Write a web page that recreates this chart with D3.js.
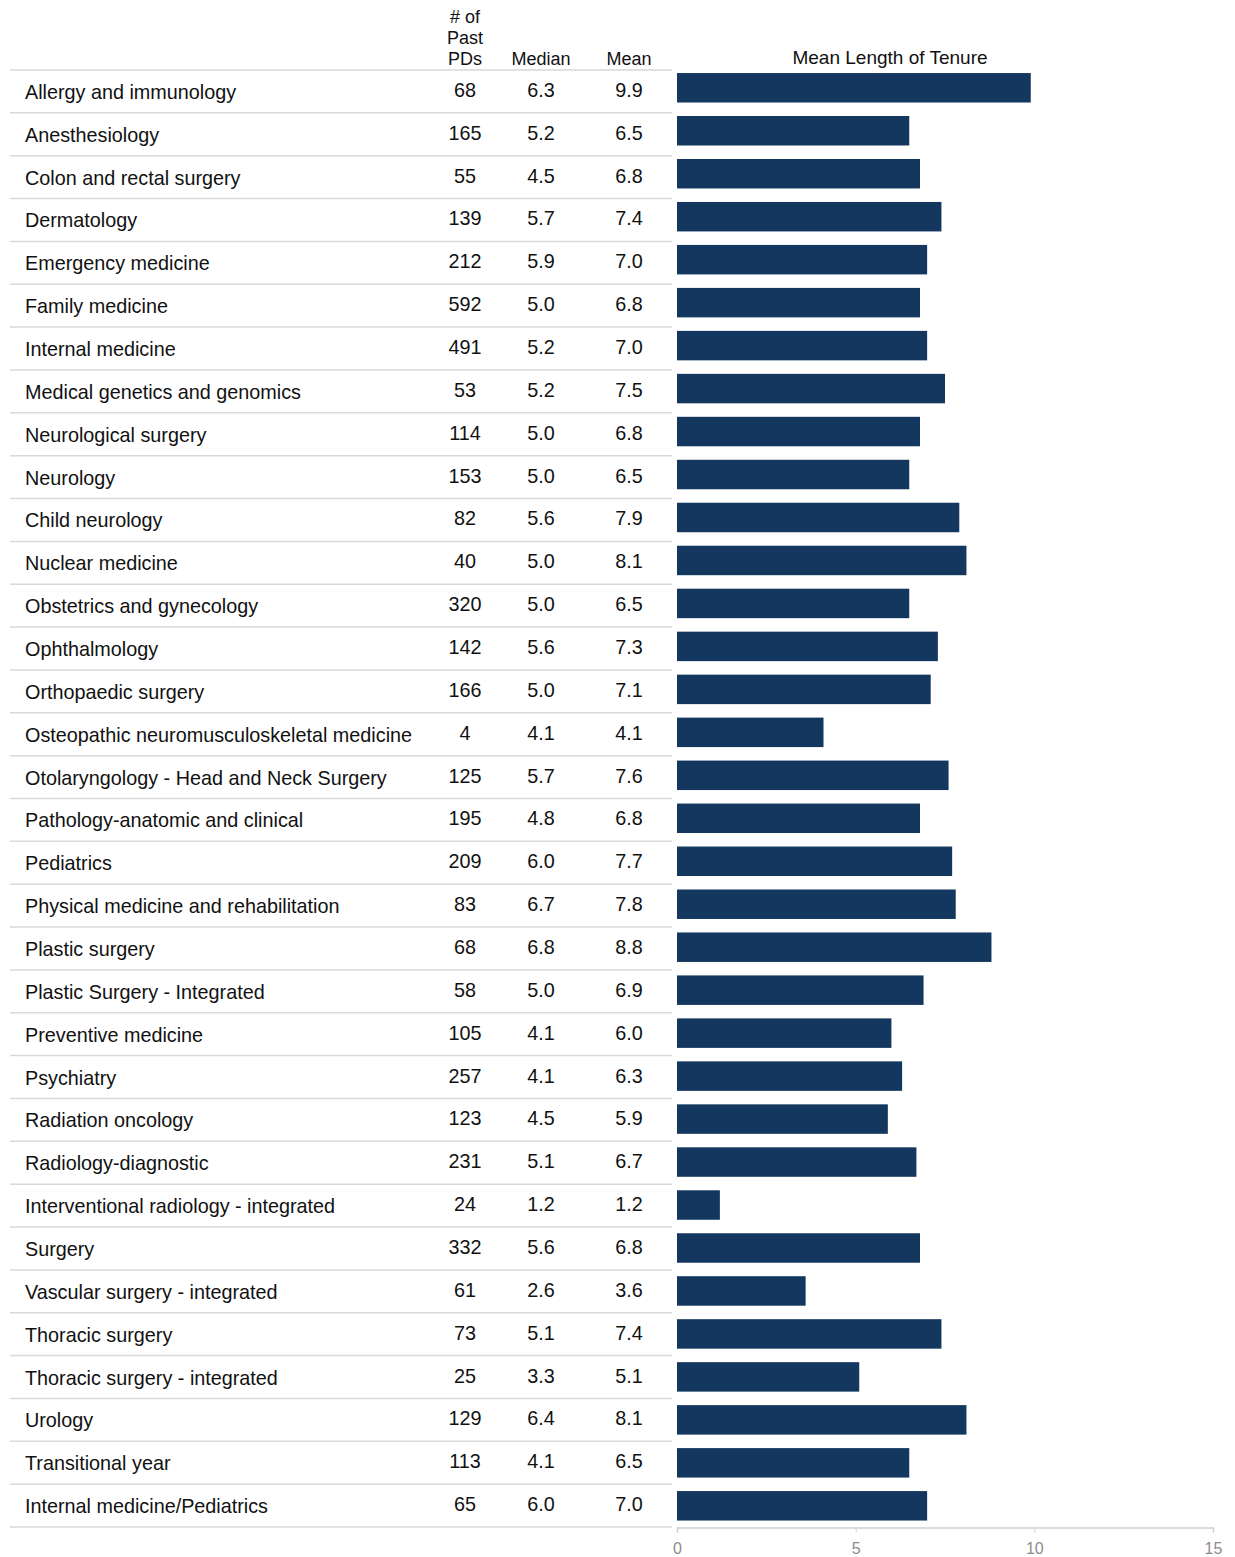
<!DOCTYPE html>
<html><head><meta charset="utf-8">
<script src="https://cdn.jsdelivr.net/npm/d3@7"></script>
<style>body{margin:0;background:#fff;}svg{display:block;font-family:"Liberation Sans",Arial,sans-serif;}</style>
</head><body><svg id="c" width="1235" height="1557"></svg>
<script>
const specialties = ["Allergy and immunology","Anesthesiology","Colon and rectal surgery","Dermatology","Emergency medicine","Family medicine","Internal medicine","Medical genetics and genomics","Neurological surgery","Neurology","Child neurology","Nuclear medicine","Obstetrics and gynecology","Ophthalmology","Orthopaedic surgery","Osteopathic neuromusculoskeletal medicine","Otolaryngology - Head and Neck Surgery","Pathology-anatomic and clinical","Pediatrics","Physical medicine and rehabilitation","Plastic surgery","Plastic Surgery - Integrated","Preventive medicine","Psychiatry","Radiation oncology","Radiology-diagnostic","Interventional radiology - integrated","Surgery","Vascular surgery - integrated","Thoracic surgery","Thoracic surgery - integrated","Urology","Transitional year","Internal medicine/Pediatrics"];
const pastPDs = [68,165,55,139,212,592,491,53,114,153,82,40,320,142,166,4,125,195,209,83,68,58,105,257,123,231,24,332,61,73,25,129,113,65];
const medians = [6.3,5.2,4.5,5.7,5.9,5.0,5.2,5.2,5.0,5.0,5.6,5.0,5.0,5.6,5.0,4.1,5.7,4.8,6.0,6.7,6.8,5.0,4.1,4.1,4.5,5.1,1.2,5.6,2.6,5.1,3.3,6.4,4.1,6.0];
const means = [9.9,6.5,6.8,7.4,7.0,6.8,7.0,7.5,6.8,6.5,7.9,8.1,6.5,7.3,7.1,4.1,7.6,6.8,7.7,7.8,8.8,6.9,6.0,6.3,5.9,6.7,1.2,6.8,3.6,7.4,5.1,8.1,6.5,7.0];
const xTicks = [0,5,10,15];

const svg = d3.select("#c");
const idx = d3.range(specialties.length);
const yRow = d3.scaleBand().domain(idx).range([70,1527]);
const yBar = d3.scaleBand().domain(idx).range([66.3,1527.3]).paddingInner(0.314).paddingOuter(0.157);
const x = d3.scaleLinear().domain([0,15]).range([677,1213]);

// headers
const hdr = svg.append("g").attr("font-size",18).attr("fill","#111").attr("text-anchor","middle");
hdr.append("text").attr("x",465).attr("y",23).text("# of");
hdr.append("text").attr("x",465).attr("y",44).text("Past");
hdr.append("text").attr("x",465).attr("y",65).text("PDs");
hdr.append("text").attr("x",541).attr("y",65).text("Median");
hdr.append("text").attr("x",629).attr("y",65).text("Mean");
hdr.append("text").attr("x",890).attr("y",64).attr("font-size",19).text("Mean Length of Tenure");

// separator lines
svg.append("g").selectAll("line").data(d3.range(specialties.length+1)).join("line")
  .attr("x1",10).attr("x2",672)
  .attr("y1",i=>70+i*yRow.step()).attr("y2",i=>70+i*yRow.step())
  .attr("stroke","#d9d9d9").attr("stroke-width",1.5);

// labels
const rows = svg.append("g").attr("font-size",19.8).attr("fill","#111");
rows.selectAll("text.lab").data(idx).join("text").attr("class","lab")
  .attr("x",25).attr("y",i=>yRow(i)+yRow.bandwidth()/2+7.5).text(i=>specialties[i]);
const cols = [[pastPDs,465,d=>d],[medians,541,d=>d.toFixed(1)],[means,629,d=>d.toFixed(1)]];
cols.forEach(([arr,cx,f])=>{
  rows.append("g").attr("text-anchor","middle").selectAll("text").data(idx).join("text")
    .attr("x",cx).attr("y",i=>yRow(i)+yRow.bandwidth()/2+5.5).text(i=>f(arr[i]));
});

// bars
svg.append("g").selectAll("rect").data(idx).join("rect")
  .attr("x",x(0)).attr("y",i=>yBar(i)).attr("width",i=>x(means[i])-x(0)).attr("height",yBar.bandwidth())
  .attr("fill","#13375e");

// axis
const ax = svg.append("g").attr("transform","translate(0,1527.5)")
  .call(d3.axisBottom(x).tickValues(xTicks).tickSize(5).tickPadding(10).tickFormat(d3.format("d")));
ax.select(".domain").attr("stroke","#d0d0d0").attr("stroke-width",1.5);
ax.selectAll(".tick line").attr("stroke","#d0d0d0");
ax.selectAll(".tick text").attr("fill","#8c8c8c").attr("font-size",16).attr("font-family","Liberation Sans, Arial, sans-serif");
</script></body></html>
